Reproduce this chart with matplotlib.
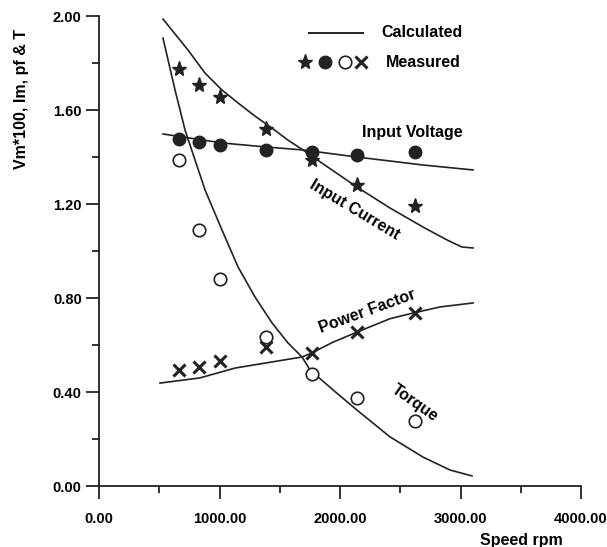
import matplotlib
matplotlib.use("Agg")
import matplotlib.pyplot as plt
from matplotlib.ticker import MultipleLocator, FormatStrFormatter

plt.rcParams['font.family'] = ['Liberation Sans', 'DejaVu Sans']
plt.rcParams['font.weight'] = 'bold'

# calculated curves
cur_x = [531, 739, 880, 1021, 1154, 1295, 1436, 1568, 1693, 1751, 2141, 2415, 2689, 2888, 3012, 3104]
cur_y = [1.987, 1.855, 1.757, 1.685, 1.630, 1.574, 1.523, 1.472, 1.430, 1.409, 1.272, 1.183,
         1.102, 1.047, 1.017, 1.013]

volt_x = [531, 1021, 1378, 1693, 2141, 2689, 3104]
volt_y = [1.498, 1.460, 1.443, 1.430, 1.400, 1.366, 1.345]

torq_x = [531, 631, 714, 797, 880, 1021, 1154, 1295, 1436, 1568, 1685, 1751, 1942, 2141,
          2415, 2689, 2913, 3095]
torq_y = [1.906, 1.685, 1.515, 1.387, 1.260, 1.089, 0.932, 0.804, 0.694, 0.609, 0.549, 0.494,
          0.409, 0.323, 0.209, 0.123, 0.068, 0.043]

pf_x = [506, 838, 1129, 1436, 1685, 1751, 1942, 2141, 2415, 2606, 2830, 3104]
pf_y = [0.438, 0.460, 0.502, 0.528, 0.549, 0.563, 0.612, 0.655, 0.712, 0.736, 0.762, 0.779]

# measured points
speed = [665, 830, 1000, 1385, 1770, 2145, 2625]
im_meas = [1.774, 1.706, 1.655, 1.519, 1.387, 1.281, 1.191]
vm_meas = [1.477, 1.464, 1.451, 1.430, 1.421, 1.409, 1.421]
t_meas = [1.387, 1.089, 0.881, 0.634, 0.477, 0.374, 0.277]
pf_meas = [0.494, 0.506, 0.532, 0.591, 0.566, 0.655, 0.736]

fig = plt.figure(figsize=(6.07, 5.47), dpi=100)
ax = fig.add_axes([0.1631, 0.1115, 0.7941, 0.8592])

lc = '#222222'
ax.plot(cur_x, cur_y, color=lc, lw=1.2)
ax.plot(volt_x, volt_y, color=lc, lw=1.2)
ax.plot(torq_x, torq_y, color=lc, lw=1.2)
ax.plot(pf_x, pf_y, color=lc, lw=1.2)

ax.plot(speed, im_meas, ls='none', marker='*', ms=11, color=lc)
ax.plot(speed, vm_meas, ls='none', marker='o', ms=9, color=lc)
ax.plot(speed, t_meas, ls='none', marker='o', ms=9, mfc='white', mec=lc, mew=1.2)
ax.plot(speed, pf_meas, ls='none', marker='x', ms=8, mew=2.2, color=lc)

# curve labels
fs = 11.5
ax.text(2598, 1.506, 'Input Voltage', fontsize=fs, ha='center', va='center')
ax.text(2124, 1.174, 'Input Current', fontsize=fs, ha='center', va='center', rotation=-31)
ax.text(2224, 0.745, 'Power Factor', fontsize=fs, ha='center', va='center', rotation=20)
ax.text(2622, 0.353, 'Torque', fontsize=fs, ha='center', va='center', rotation=-35)

# hand-made legend
tr = ax.transAxes
ax.plot([0.436, 0.548], [0.964, 0.964], color=lc, lw=1.4, transform=tr, clip_on=False)
ax.text(0.585, 0.964, 'Calculated', fontsize=fs, va='center', transform=tr)
ax.plot([0.427], [0.902], marker='*', ms=11, color=lc, transform=tr, clip_on=False)
ax.plot([0.469], [0.902], marker='o', ms=9, color=lc, transform=tr, clip_on=False)
ax.plot([0.510], [0.902], marker='o', ms=9, mfc='white', mec=lc, mew=1.2, transform=tr, clip_on=False)
ax.plot([0.543], [0.902], marker='x', ms=8, mew=2.2, color=lc, transform=tr, clip_on=False)
ax.text(0.595, 0.902, 'Measured', fontsize=fs, va='center', transform=tr)

ax.set_xlim(0, 4000)
ax.set_ylim(0, 2.0)
ax.xaxis.set_major_locator(MultipleLocator(1000))
ax.xaxis.set_minor_locator(MultipleLocator(500))
ax.yaxis.set_major_locator(MultipleLocator(0.4))
ax.yaxis.set_minor_locator(MultipleLocator(0.2))
ax.xaxis.set_major_formatter(FormatStrFormatter('%.2f'))
ax.yaxis.set_major_formatter(FormatStrFormatter('%.2f'))

for s in ['top', 'right']:
    ax.spines[s].set_visible(False)
for s in ['left', 'bottom']:
    ax.spines[s].set_linewidth(1.3)
    ax.spines[s].set_color(lc)

ax.tick_params(which='major', direction='out', length=9.5, width=1.3, color=lc, labelsize=10.5)
ax.tick_params(which='minor', direction='out', length=5, width=1.3, color=lc)
ax.tick_params(axis='x', which='major', pad=9)
ax.tick_params(axis='y', which='major', pad=3)

fig.text(22 / 607, 1 - 99 / 547, 'Vm*100, Im, pf & T', rotation=90, fontsize=fs,
         ha='center', va='center')
fig.text(521 / 607, 1 - 540 / 547, 'Speed rpm', fontsize=fs, ha='center', va='center')

fig.savefig('out.png', dpi=100)
